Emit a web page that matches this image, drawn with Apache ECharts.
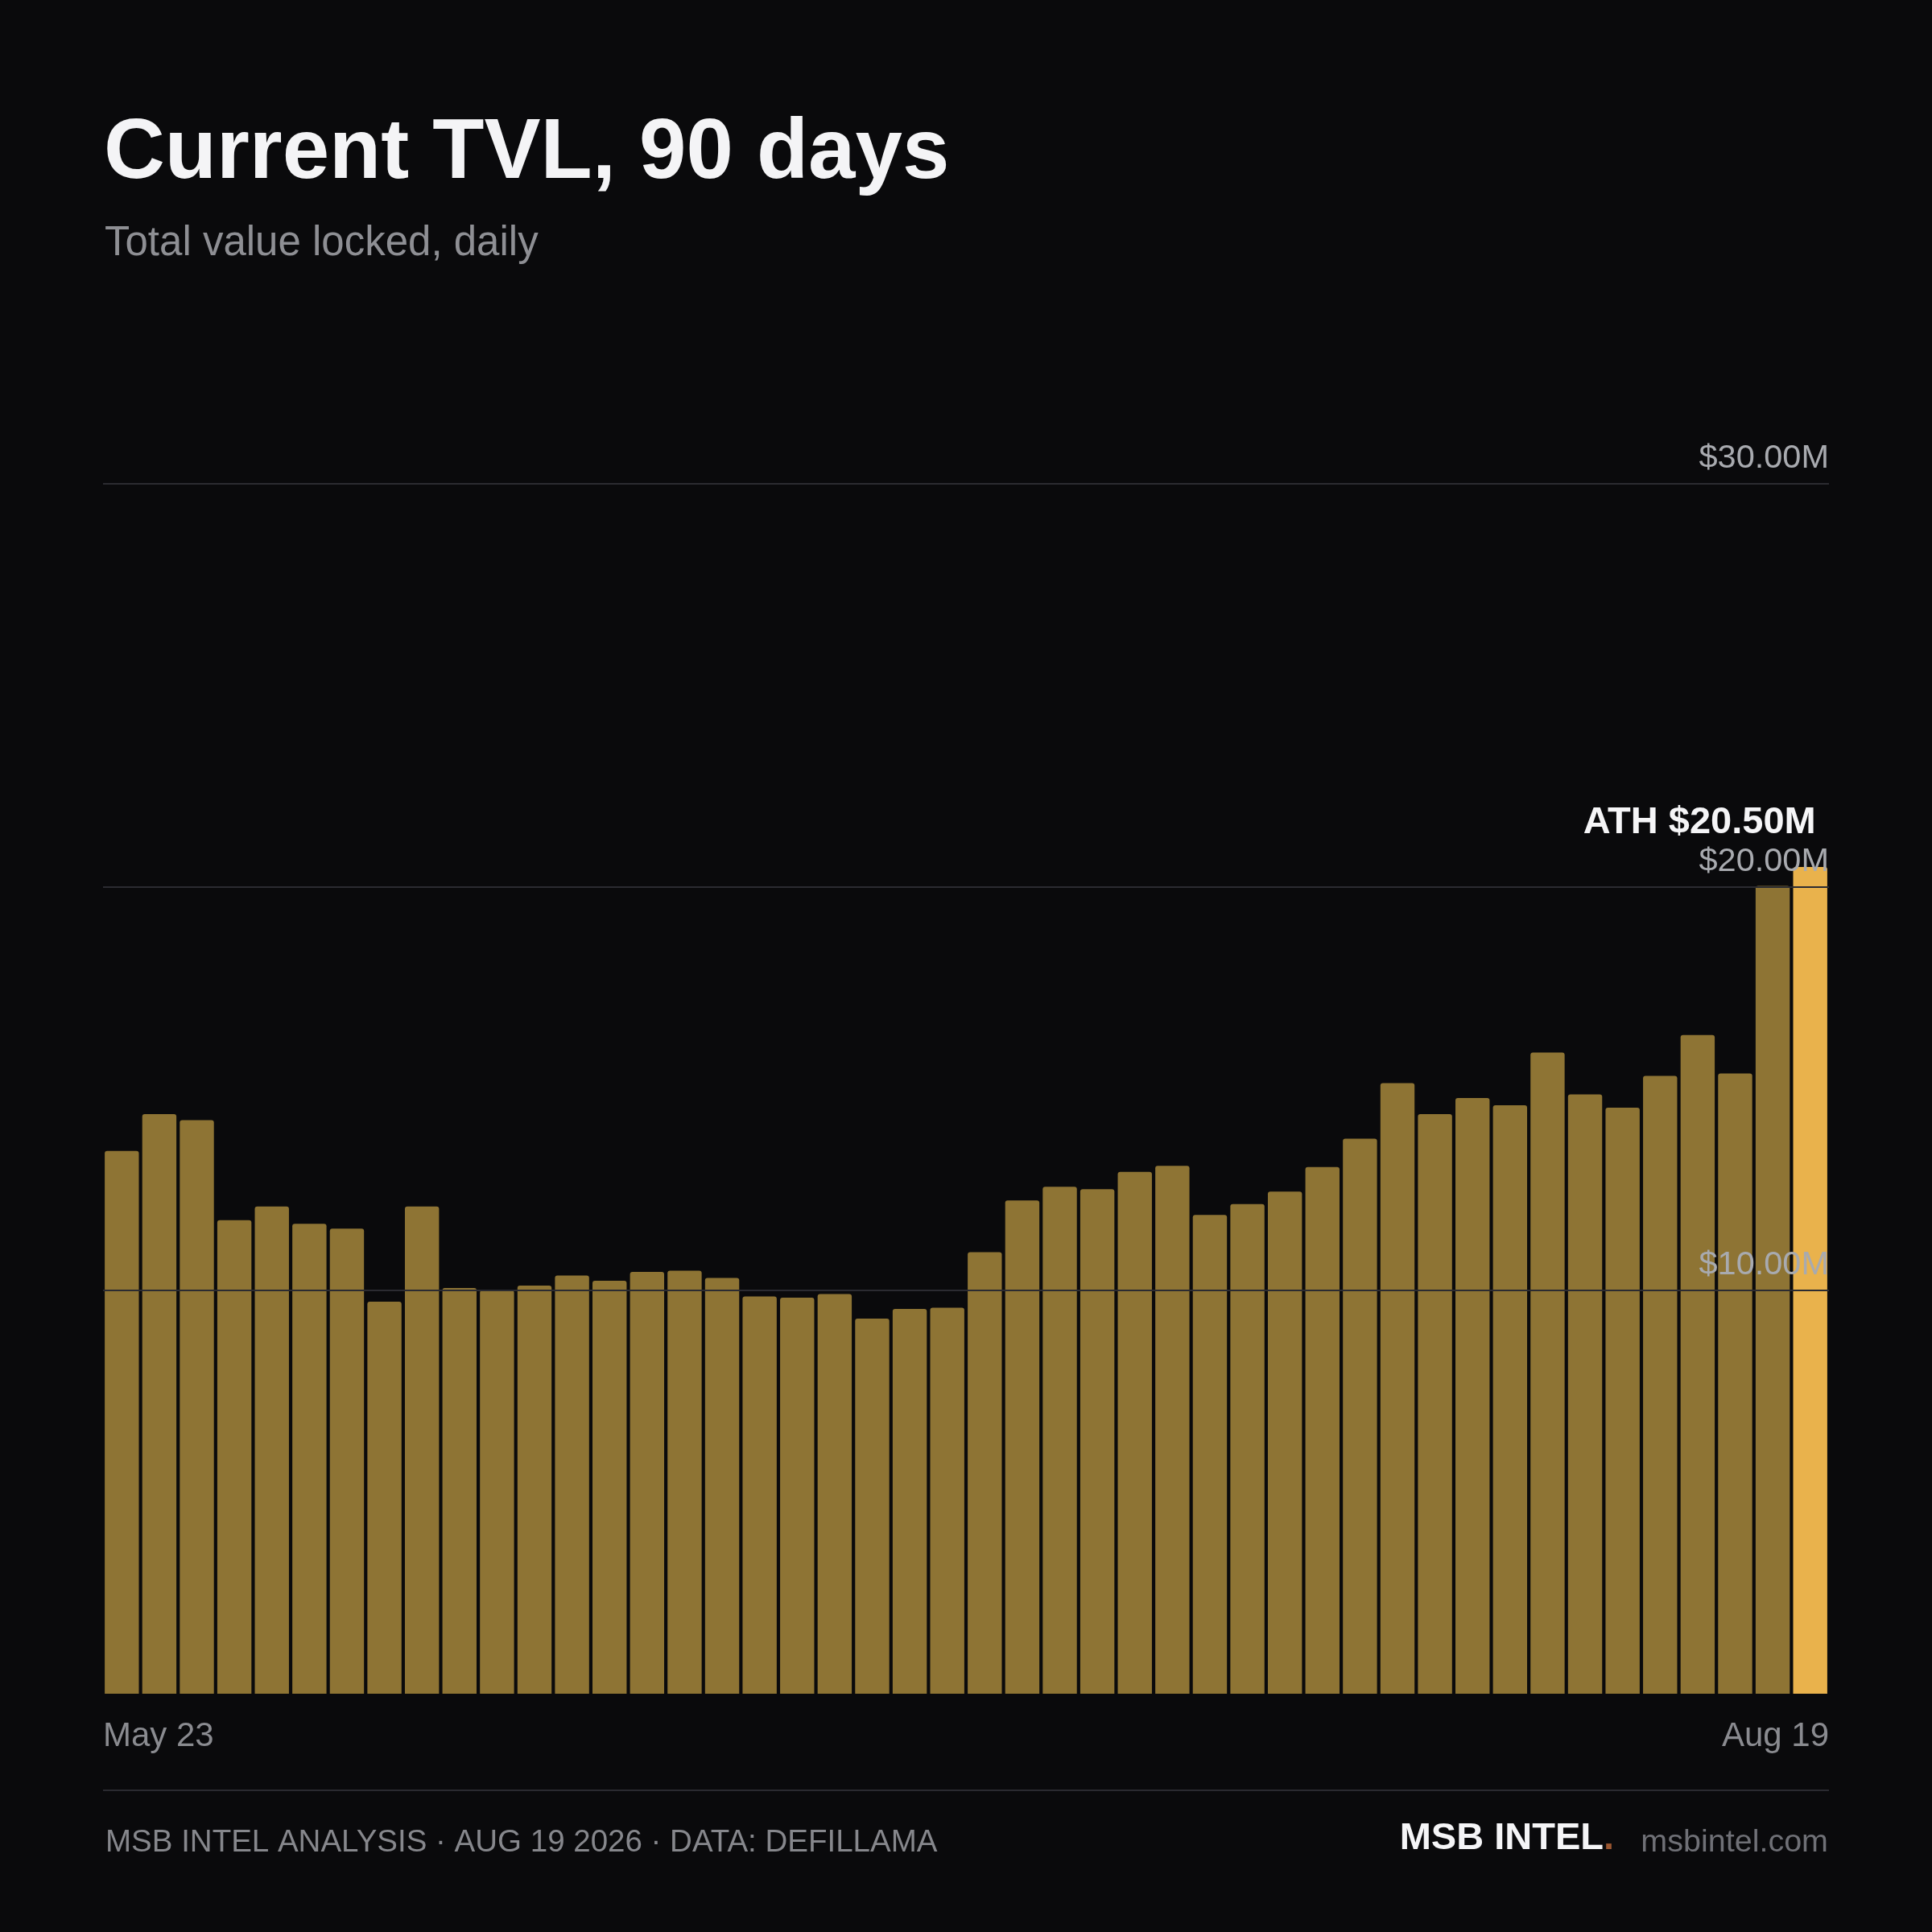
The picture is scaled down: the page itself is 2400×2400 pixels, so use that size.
<!DOCTYPE html>
<html>
<head>
<meta charset="utf-8">
<title>Current TVL, 90 days</title>
<script src="https://cdn.jsdelivr.net/npm/echarts@6/dist/echarts.min.js"></script>
<style>
  html, body { margin: 0; padding: 0; background: #0a0a0c; }
  #chart { width: 2400px; height: 2400px; }
</style>
</head>
<body>
<div id="chart"></div>
<script>
// TVL in $M, one bar per sample, oldest first
var tvlValues = [
  13.46, 14.37, 14.22, 11.74, 12.08, 11.65, 11.53, 9.72, 12.08, 10.06,
  10.00, 10.12, 10.37, 10.24, 10.46, 10.49, 10.31, 9.85, 9.82, 9.91,
  9.30, 9.54, 9.57, 10.95, 12.23, 12.57, 12.51, 12.94, 13.09, 11.87,
  12.14, 12.45, 13.06, 13.76, 15.14, 14.37, 14.77, 14.59, 15.90, 14.86,
  14.53, 15.32, 16.33, 15.38, 20.03, 20.50
];
var dateLabels = ['May 23', 'Aug 19'];
var yTicks = [0, 10, 20, 30];

var FONT = 'Liberation Sans, Arial, sans-serif';
var barColor = '#8e7434';
var athColor = '#e9b24c';

var categories = tvlValues.map(function (v, i) { return i; });

var barData = tvlValues.map(function (v, i) {
    if (i === tvlValues.length - 1) {
        return {
            value: v,
            itemStyle: { color: athColor },
            label: {
                show: true,
                position: 'top',
                align: 'right',
                verticalAlign: 'bottom',
                distance: 31,
                offset: [7, 0],
                formatter: function (p) { return 'ATH $' + p.value.toFixed(2) + 'M'; },
                color: '#f5f5f7',
                fontSize: 47,
                fontWeight: 'bold',
                fontFamily: FONT
            }
        };
    }
    return v;
});

var myChart = echarts.init(document.getElementById('chart'));

var option = {
    animation: false,
    backgroundColor: '#0a0a0c',
    textStyle: { fontFamily: FONT },
    title: [{
        text: 'Current TVL, 90 days',
        left: 124,
        top: 135,
        textStyle: { color: '#f4f4f6', fontSize: 105, fontWeight: 'bold', fontFamily: FONT }
    }, {
        text: 'Total value locked, daily',
        left: 125,
        top: 272,
        textStyle: { color: '#8e8f94', fontSize: 51, fontWeight: 'normal', fontFamily: FONT }
    }, {
        text: 'MSB INTEL ANALYSIS \u00b7 AUG 19 2026 \u00b7 DATA: DEFILLAMA',
        left: 126,
        top: 2265,
        textStyle: { color: '#86878c', fontSize: 38.5, fontWeight: 'normal', fontFamily: FONT }
    }, {
        text: '{a|MSB INTEL}{b|.}',
        right: 390,
        top: 2256,
        textStyle: {
            rich: {
                a: { color: '#f5f5f7', fontSize: 47, fontWeight: 'bold', fontFamily: FONT },
                b: { color: '#9a5630', fontSize: 47, fontWeight: 'bold', fontFamily: FONT }
            }
        }
    }, {
        text: 'msbintel.com',
        right: 124,
        top: 2264,
        textStyle: { color: '#6f7076', fontSize: 39.5, fontWeight: 'normal', fontFamily: FONT }
    }],
    graphic: [{
        type: 'line',
        shape: { x1: 128, y1: 2224, x2: 2272, y2: 2224 },
        style: { stroke: '#2a2a30', lineWidth: 2 },
        silent: true
    }],
    grid: { left: 128, right: 128, top: 601, bottom: 296 },
    xAxis: [{
        type: 'category',
        data: categories,
        axisLine: { show: false },
        axisTick: { show: false },
        axisLabel: { show: false },
        splitLine: { show: false }
    }, {
        type: 'value',
        position: 'bottom',
        min: 0,
        max: tvlValues.length,
        interval: tvlValues.length,
        axisLine: { show: false },
        axisTick: { show: false },
        splitLine: { show: false },
        axisLabel: {
            margin: 32,
            color: '#8a8b90',
            fontSize: 42,
            fontFamily: FONT,
            alignMinLabel: 'left',
            alignMaxLabel: 'right',
            formatter: function (v) { return v === 0 ? dateLabels[0] : dateLabels[1]; }
        }
    }],
    yAxis: {
        type: 'value',
        position: 'right',
        min: yTicks[0],
        max: yTicks[yTicks.length - 1],
        interval: yTicks[1] - yTicks[0],
        z: 5,
        axisLine: { show: false },
        axisTick: { show: false },
        splitLine: {
            show: true,
            lineStyle: { color: ['rgba(0,0,0,0)', '#2b2b31', '#2b2b31', '#2b2b31'], width: 2 }
        },
        axisLabel: {
            inside: true,
            showMinLabel: false,
            margin: 0,
            verticalAlign: 'bottom',
            padding: [0, 0, 10, 0],
            color: '#a8aaaf',
            fontSize: 41.5,
            fontFamily: FONT,
            formatter: function (v) { return '$' + v.toFixed(2) + 'M'; }
        }
    },
    series: [{
        name: 'TVL',
        type: 'bar',
        xAxisIndex: 0,
        data: barData,
        barCategoryGap: '9%',
        itemStyle: { color: barColor, borderRadius: [3, 3, 0, 0] }
    }]
};

myChart.setOption(option);
</script>
</body>
</html>
